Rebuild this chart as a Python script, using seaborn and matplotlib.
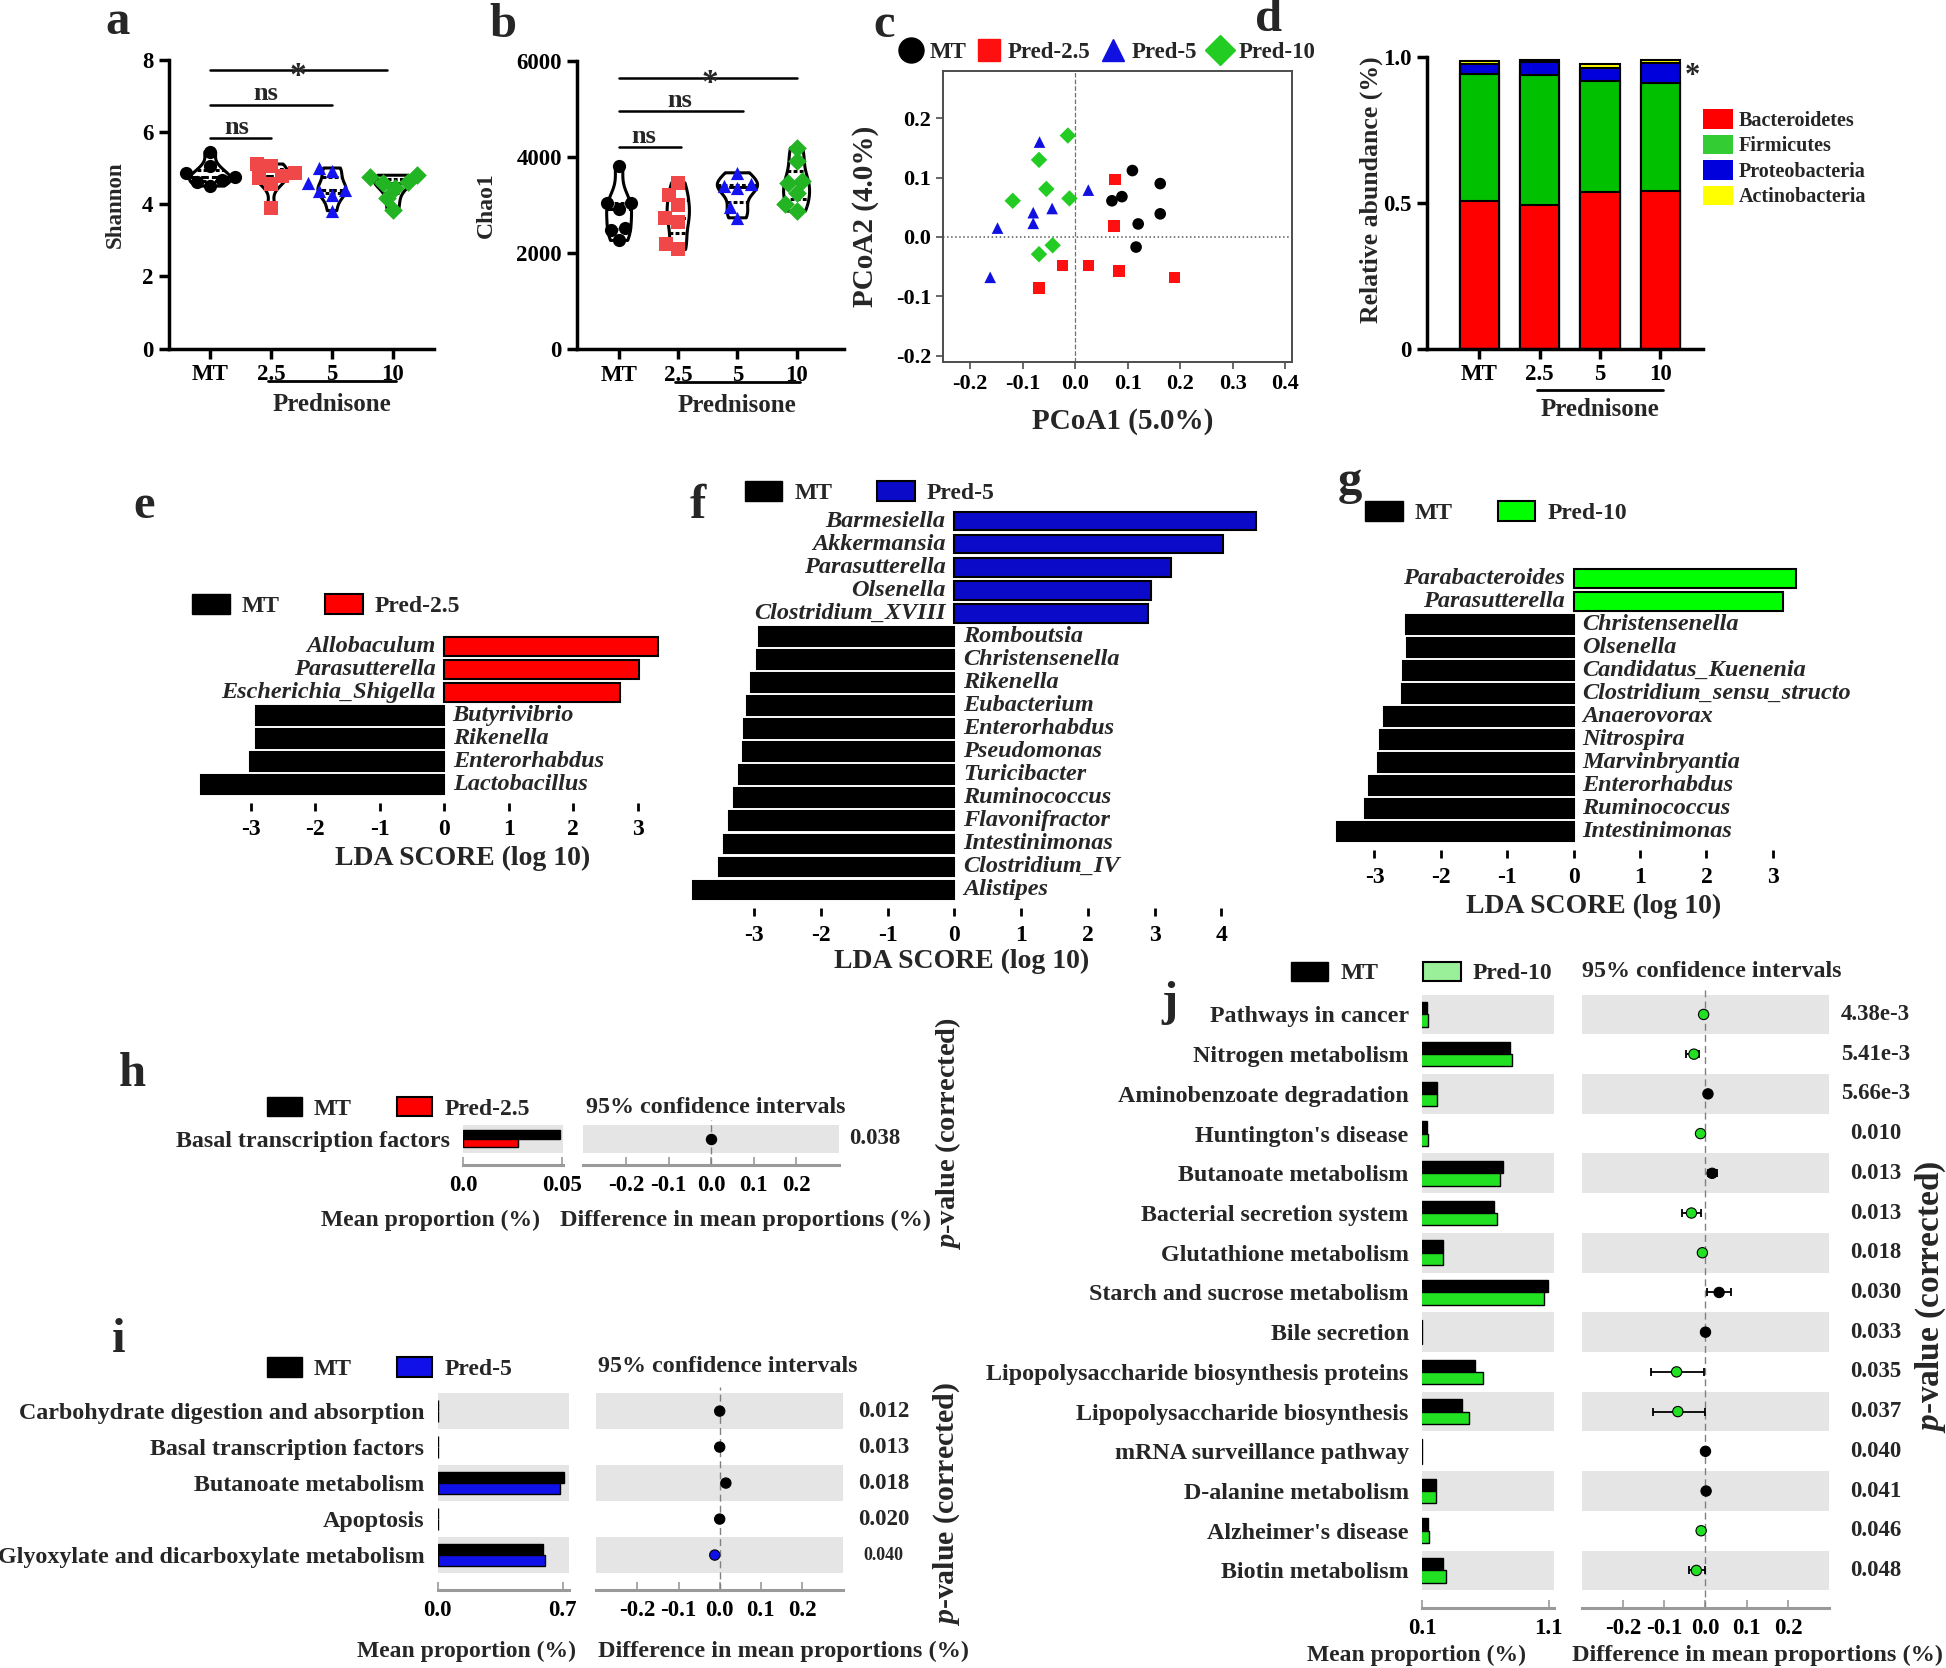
import numpy as np
import pandas as pd
import seaborn as sns
import matplotlib.pyplot as plt
import matplotlib.transforms as mtrans
from matplotlib.lines import Line2D
from matplotlib.patches import Patch

sns.set_theme(style='white')
plt.rcParams['font.family'] = ['Liberation Serif', 'DejaVu Serif']
plt.rcParams['font.weight'] = 'bold'
plt.rcParams['axes.unicode_minus'] = False
plt.rcParams['mathtext.fontset'] = 'custom'
plt.rcParams['mathtext.it'] = 'Liberation Serif:italic:bold'
plt.rcParams['mathtext.rm'] = 'Liberation Serif:bold'

# ---------------- data ----------------
groups = ['MT', '2.5', '5', '10']
group_colors = ['black', '#f04848', '#1414f0', '#22b422']
group_markers = ['o', 's', '^', 'D']

shannon_mt = [5.45, 5.05, 4.85, 4.75, 4.68, 4.62, 4.5]
shannon_p25 = [5.11, 5.05, 4.87, 4.77, 4.73, 4.56, 3.88]
shannon_p5 = [5.0, 4.91, 4.59, 4.4, 4.36, 4.26, 3.82]
shannon_p10 = [4.8, 4.76, 4.62, 4.59, 4.45, 4.16, 3.83]

chao_mt = [3806, 3045, 3045, 2907, 2526, 2484, 2263]
chao_p25 = [3460, 3197, 2990, 2733, 2650, 2194, 2076]
chao_p5 = [3668, 3426, 3391, 3356, 2962, 2733]
chao_p10 = [4187, 3910, 3495, 3446, 3239, 3024, 2872]

pcoa_groups = ['MT', 'Pred-2.5', 'Pred-5', 'Pred-10']
pc1_mt = [0.109, 0.162, 0.089, 0.070, 0.120, 0.162, 0.116]
pc2_mt = [0.112, 0.090, 0.068, 0.061, 0.022, 0.039, -0.017]
pc1_p25 = [0.076, 0.074, -0.024, 0.025, 0.084, 0.189, -0.069]
pc2_p25 = [0.097, 0.018, -0.048, -0.048, -0.057, -0.068, -0.086]
pc1_p5 = [-0.068, 0.025, -0.080, -0.044, -0.080, -0.148, -0.162]
pc2_p5 = [0.160, 0.079, 0.041, 0.048, 0.023, 0.015, -0.068]
pc1_p10 = [-0.014, -0.069, -0.055, -0.119, -0.011, -0.043, -0.069]
pc2_p10 = [0.171, 0.130, 0.081, 0.061, 0.065, -0.014, -0.029]

phyla = ['Bacteroidetes', 'Firmicutes', 'Proteobacteria', 'Actinobacteria']
phyla_colors = ['#ff0000', '#00c000', '#0000dd', '#ffff00']
bacteroidetes = [0.508, 0.493, 0.536, 0.541]
firmicutes = [0.434, 0.445, 0.383, 0.369]
proteobacteria = [0.035, 0.044, 0.042, 0.069]
actinobacteria = [0.011, 0.009, 0.014, 0.012]

e_names = ['Allobaculum', 'Parasutterella', 'Escherichia_Shigella', 'Butyrivibrio',
           'Rikenella', 'Enterorhabdus', 'Lactobacillus']
e_lda = [3.31, 3.02, 2.72, -2.92, -2.92, -3.01, -3.77]

f_names = ['Barmesiella', 'Akkermansia', 'Parasutterella', 'Olsenella', 'Clostridium_XVIII',
           'Romboutsia', 'Christensenella', 'Rikenella', 'Eubacterium', 'Enterorhabdus',
           'Pseudomonas', 'Turicibacter', 'Ruminococcus', 'Flavonifractor', 'Intestinimonas',
           'Clostridium_IV', 'Alistipes']
f_lda = [4.52, 4.02, 3.25, 2.94, 2.90, -2.93, -2.95, -3.04, -3.11, -3.15, -3.17, -3.23,
         -3.30, -3.38, -3.45, -3.52, -3.91]

g_names = ['Parabacteroides', 'Parasutterella', 'Christensenella', 'Olsenella',
           'Candidatus_Kuenenia', 'Clostridium_sensu_structo', 'Anaerovorax', 'Nitrospira',
           'Marvinbryantia', 'Enterorhabdus', 'Ruminococcus', 'Intestinimonas']
g_lda = [3.35, 3.15, -2.52, -2.51, -2.57, -2.58, -2.85, -2.92, -2.94, -3.09, -3.15, -3.56]

h_paths = ['Basal transcription factors']
h_mt = [0.049]
h_pred = [0.0275]
h_diff = [0.0]
h_lo = [-0.002]
h_hi = [0.002]
h_p = ['0.038']

i_paths = ['Carbohydrate digestion and absorption', 'Basal transcription factors',
           'Butanoate metabolism', 'Apoptosis', 'Glyoxylate and dicarboxylate metabolism']
i_mt = [0.003, 0.002, 0.707, 0.002, 0.587]
i_pred = [0.003, 0.002, 0.687, 0.002, 0.598]
i_diff = [0.0, 0.0, 0.015, 0.0, -0.012]
i_lo = [-0.002, -0.002, 0.008, -0.002, -0.018]
i_hi = [0.002, 0.002, 0.022, 0.002, -0.006]
i_p = ['0.012', '0.013', '0.018', '0.020', '0.040']

j_paths = ['Pathways in cancer', 'Nitrogen metabolism', 'Aminobenzoate degradation',
           "Huntington's disease", 'Butanoate metabolism', 'Bacterial secretion system',
           'Glutathione metabolism', 'Starch and sucrose metabolism', 'Bile secretion',
           'Lipopolysaccharide biosynthesis proteins', 'Lipopolysaccharide biosynthesis',
           'mRNA surveillance pathway', 'D-alanine metabolism', "Alzheimer's disease",
           'Biotin metabolism']
j_mt = [0.144, 0.791, 0.218, 0.139, 0.737, 0.669, 0.267, 1.090, 0.104, 0.522, 0.414,
        0.104, 0.208, 0.149, 0.267]
j_pred = [0.149, 0.806, 0.218, 0.149, 0.718, 0.693, 0.267, 1.061, 0.104, 0.580, 0.473,
          0.104, 0.208, 0.159, 0.286]
j_diff = [-0.0045, -0.028, 0.006, -0.012, 0.016, -0.034, -0.0075, 0.033, 0.0, -0.070,
          -0.067, 0.0, 0.0015, -0.0105, -0.022]
j_lo = [-0.006, -0.046, 0.004, -0.014, 0.006, -0.058, -0.009, 0.003, -0.001, -0.133,
        -0.127, -0.001, 0.0, -0.012, -0.039]
j_hi = [-0.003, -0.016, 0.008, -0.010, 0.028, -0.012, -0.006, 0.063, 0.001, -0.0045,
        -0.0015, 0.001, 0.003, -0.009, -0.0015]
j_p = ['4.38e-3', '5.41e-3', '5.66e-3', '0.010', '0.013', '0.013', '0.018', '0.030',
       '0.033', '0.035', '0.037', '0.040', '0.041', '0.046', '0.048']

# ---------------- layout helpers (coords of a 1568x1344 grid) ----------------
W, H = 1568.0, 1344.0
fig = plt.figure(figsize=(19.46, 16.68), dpi=100)


def px_axes(l, t, r, b):
    return fig.add_axes([l / W, 1 - b / H, (r - l) / W, (b - t) / H])


def ftext(x, y, s, **kw):
    kw.setdefault('ha', 'center')
    kw.setdefault('va', 'center')
    return fig.text(x / W, 1 - y / H, s, **kw)


def fig_legend(handles, labels, x, y, **kw):
    opts = dict(loc='center left', bbox_to_anchor=(x / W, 1 - y / H), frameon=False,
                fontsize=17, borderpad=0, borderaxespad=0, ncol=len(handles),
                handlelength=1.6, handleheight=0.9, handletextpad=0.5, columnspacing=1.9)
    opts.update(kw)
    return fig.legend(handles, labels, **opts)


def style_box_axis(ax):
    sns.despine(ax=ax)
    for s in ['left', 'bottom']:
        ax.spines[s].set_linewidth(2.5)
        ax.spines[s].set_color('black')
    ax.tick_params(direction='out', length=7, width=2.5, labelsize=16.5, colors='black',
                   pad=4, bottom=True, left=True)
    ax.set_xlabel('')
    ax.set_ylabel('')


def prednisone_bracket(ax, y_line, y_text):
    tr = mtrans.blended_transform_factory(ax.transData, ax.transAxes)
    ax.plot([0.95, 3.05], [y_line, y_line], color='black', lw=2, transform=tr, clip_on=False)
    ax.text(2, y_text, 'Prednisone', transform=tr, ha='center', va='center', fontsize=18)


def diversity_panel(box, values, ylim, yticks, sig, xlim):
    ax = px_axes(*box)
    df = pd.DataFrame({'group': np.repeat(groups, [len(v) for v in values]),
                       'value': np.concatenate(values)})
    sns.violinplot(data=df, x='group', y='value', order=groups, color='black', fill=False,
                   linewidth=2.2, cut=0, width=0.68, inner='quart', bw_adjust=0.8, ax=ax)
    for g, c, m in zip(groups, group_colors, group_markers):
        sns.swarmplot(data=df[df.group == g], x='group', y='value', order=groups, color=c,
                      marker=m, size=9.5, linewidth=0, ax=ax)
    for x1, yl, lab, tx, ty in sig:
        ax.plot([0, x1], [yl, yl], color='black', lw=1.8)
        fs = 24 if lab == '*' else 19
        ax.text(tx, ty, lab, ha='center', va='baseline', fontsize=fs)
    ax.set_xlim(*xlim)
    ax.set_ylim(*ylim)
    ax.set_yticks(yticks)
    style_box_axis(ax)
    prednisone_bracket(ax, -0.112, -0.193)
    return ax


# ---------------- a: Shannon ----------------
diversity_panel((136, 48, 350, 281), [shannon_mt, shannon_p25, shannon_p5, shannon_p10],
                (0, 8), [0, 2, 4, 6, 8],
                [(1, 5.83, 'ns', 0.44, 5.95), (2, 6.75, 'ns', 0.92, 6.87),
                 (2.9, 7.7, '*', 1.44, 7.3)], (-0.68, 3.68))
ftext(93, 165, 'Shannon', rotation=90, fontsize=16.5)

# ---------------- b: Chao1 ----------------
diversity_panel((465, 48.8, 680, 281.5), [chao_mt, chao_p25, chao_p5, chao_p10],
                (0, 6000), [0, 2000, 4000, 6000],
                [(1.04, 4200, 'ns', 0.41, 4290), (2.1, 4948, 'ns', 1.02, 5040),
                 (3.0, 5647, '*', 1.53, 5350)], (-0.71, 3.8))
ftext(392, 165, 'Chao1', rotation=90, fontsize=17)

# ---------------- c: PCoA ----------------
ax = px_axes(760, 57.6, 1041, 291.8)
df_c = pd.DataFrame({
    'group': np.repeat(pcoa_groups, 7),
    'pc1': np.concatenate([pc1_mt, pc1_p25, pc1_p5, pc1_p10]),
    'pc2': np.concatenate([pc2_mt, pc2_p25, pc2_p5, pc2_p10]),
})
pal_c = dict(zip(pcoa_groups, ['black', '#ff1010', '#1010e0', '#22cc22']))
mk_c = dict(zip(pcoa_groups, group_markers))
ax.axvline(0, color='0.45', ls='--', lw=0.9, zorder=0)
ax.axhline(0, color='0.35', ls=':', lw=1.1, zorder=0)
sns.scatterplot(data=df_c, x='pc1', y='pc2', hue='group', style='group', palette=pal_c,
                markers=mk_c, s=70, edgecolor='none', legend=False, ax=ax)
ax.set_xlim(-0.2515, 0.413)
ax.set_ylim(-0.211, 0.279)
ax.set_xticks([-0.2, -0.1, 0.0, 0.1, 0.2, 0.3, 0.4])
ax.set_yticks([-0.2, -0.1, 0.0, 0.1, 0.2])
ax.set_xticklabels(['-0.2', '-0.1', '0.0', '0.1', '0.2', '0.3', '0.4'])
ax.set_yticklabels(['-0.2', '-0.1', '0.0', '0.1', '0.2'])
for s in ax.spines.values():
    s.set_color('0.3')
    s.set_linewidth(1.4)
ax.tick_params(direction='out', length=5, width=1.2, colors='0.3', labelcolor='black',
               labelsize=16, bottom=True, left=True)
ax.set_xlabel('')
ax.set_ylabel('')
ftext(905, 340, 'PCoA1 (5.0%)', fontsize=21)
ftext(697, 174, 'PCoA2 (4.0%)', fontsize=21, rotation=90)
c_handles = [Line2D([], [], ls='none', marker=m, color=pal_c[g], markersize=ms)
             for g, m, ms in zip(pcoa_groups, group_markers, [18, 16, 16, 15])]
fig_legend(c_handles, pcoa_groups, 725, 42, handlelength=1.0, handletextpad=0.3,
           columnspacing=0.5, fontsize=16.5)

# ---------------- d: relative abundance ----------------
ax = px_axes(1150, 46, 1372, 281)
layers = [bacteroidetes, firmicutes, proteobacteria, actinobacteria]
cum = np.cumsum(np.array(layers), axis=0)
for k in range(len(phyla) - 1, -1, -1):
    sns.barplot(x=groups, y=cum[k], order=groups, color=phyla_colors[k], saturation=1,
                edgecolor='black', linewidth=1.5, width=0.65, ax=ax)
ax.set_xlim(-0.86, 3.7)
ax.set_ylim(0, 1)
ax.set_yticks([0, 0.5, 1.0])
ax.set_yticklabels(['0', '0.5', '1.0'])
style_box_axis(ax)
prednisone_bracket(ax, -0.14, -0.208)
ftext(1105, 153, 'Relative abundance (%)', rotation=90, fontsize=18.5)
ftext(1364, 62, '*', fontsize=22)
d_handles = [Patch(fc=c, ec='none') for c in ['#ff0000', '#33cc33', '#0000dd', '#ffff00']]
fig.legend(d_handles, phyla, loc='upper left', bbox_to_anchor=(1372 / W, 1 - 88 / H),
           frameon=False, fontsize=14.5, handlelength=1.5, handleheight=1.1,
           labelspacing=0.2, handletextpad=0.3, borderpad=0, borderaxespad=0)


# ---------------- e, f, g: LEfSe LDA ----------------
def lda_panel(names, scores, pos_name, pos_color, zero_x, unit, xlim, y0, pitch, ticks,
              off=0.13):
    n = len(names)
    l = zero_x + xlim[0] * unit
    r = zero_x + xlim[1] * unit
    ax = px_axes(l, y0 - pitch / 2, r, y0 + (n - 0.5) * pitch)
    df = pd.DataFrame({'taxon': names, 'score': scores})
    df['group'] = np.where(df.score > 0, pos_name, 'MT')
    sns.barplot(data=df, y='taxon', x='score', hue='group', order=names,
                palette={'MT': 'black', pos_name: pos_color}, saturation=1, dodge=False,
                width=0.8, edgecolor='black', linewidth=1.5, legend=False, ax=ax)
    for k, (nm, s) in enumerate(zip(names, scores)):
        if s > 0:
            ax.text(-off, k, nm, ha='right', va='center', style='italic', fontsize=17.5)
        else:
            ax.text(off, k, nm, ha='left', va='center', style='italic', fontsize=17.5)
    ax.set_xlim(*xlim)
    ax.set_ylim(n - 0.5, -0.5)
    ax.set_yticks([])
    ax.set_xticks(ticks)
    ax.set_xlabel('')
    ax.set_ylabel('')
    for s in ['top', 'right', 'left']:
        ax.spines[s].set_visible(False)
    ax.spines['bottom'].set_position(('outward', 5))
    ax.spines['bottom'].set_visible(False)
    ax.tick_params(axis='x', direction='out', length=6, width=2, colors='black',
                   labelsize=17, pad=6, bottom=True)
    return ax


lda_panel(e_names, e_lda, 'Pred-2.5', '#ff0000', 358, 52, (-4.0, 3.6), 521, 18.5,
          [-3, -2, -1, 0, 1, 2, 3])
ftext(373, 692, 'LDA SCORE (log 10)', fontsize=20)
fig_legend([Patch(fc='black', ec='black'), Patch(fc='#ff0000', ec='black', lw=1.5)],
           ['MT', 'Pred-2.5'], 155, 488)

lda_panel(f_names, f_lda, 'Pred-5', '#0a0ac8', 769, 53.8, (-4.05, 4.6), 420, 18.56,
          [-3, -2, -1, 0, 1, 2, 3, 4])
ftext(775, 775, 'LDA SCORE (log 10)', fontsize=20)
fig_legend([Patch(fc='black', ec='black'), Patch(fc='#0a0ac8', ec='black', lw=1.5)],
           ['MT', 'Pred-5'], 600, 397)

lda_panel(g_names, g_lda, 'Pred-10', '#00ff00', 1268, 53.5, (-3.7, 3.7), 466, 18.55,
          [-3, -2, -1, 0, 1, 2, 3])
ftext(1284, 730, 'LDA SCORE (log 10)', fontsize=20)
fig_legend([Patch(fc='black', ec='black'), Patch(fc='#00ff00', ec='black', lw=1.5)],
           ['MT', 'Pred-10'], 1100, 413)


# ---------------- h, i, j: STAMP extended error bars ----------------
def stamp_panel(names, mt, pred, diff, lo, hi, pvals, pred_name, pred_color, bar_lr, ci_lr,
                y0, pitch, pad_top, pad_bot, bar_xlim, bar_ticks, bar_labels, p_x,
                p_sizes=None):
    n = len(names)
    top = y0 - pitch / 2 - pad_top
    bot = y0 + (n - 0.5) * pitch + pad_bot
    ylim = (n - 0.5 + pad_bot / pitch, -0.5 - pad_top / pitch)
    axb = px_axes(bar_lr[0], top, bar_lr[1], bot)
    axc = px_axes(ci_lr[0], top, ci_lr[1], bot)

    long = pd.DataFrame({'pathway': list(names) * 2,
                         'group': ['MT'] * n + [pred_name] * n,
                         'mean': list(mt) + list(pred)})
    sns.barplot(data=long, y='pathway', x='mean', hue='group', order=names,
                hue_order=['MT', pred_name], palette={'MT': 'black', pred_name: pred_color},
                saturation=1, dodge=True, width=0.62, edgecolor='black', linewidth=1,
                legend=False, ax=axb)

    rows = np.arange(n)
    diff = np.asarray(diff)
    pt_group = np.where(diff >= 0, 'MT', pred_name)
    axc.axvline(0, color='0.5', ls=(0, (5, 3)), lw=1, zorder=1)
    axc.errorbar(diff, rows, xerr=[diff - np.asarray(lo), np.asarray(hi) - diff], fmt='none',
                 ecolor='black', elinewidth=1.3, capsize=3, capthick=1.3, zorder=2)
    sns.scatterplot(x=diff, y=rows, hue=pt_group, palette={'MT': 'black', pred_name: pred_color},
                    s=55, edgecolor='black', linewidth=0.8, legend=False, zorder=3, ax=axc)

    for ax in (axb, axc):
        for k in range(0, n, 2):
            ax.axhspan(k - 0.5, k + 0.5, color='#e5e5e5', lw=0, zorder=0)
        ax.set_ylim(*ylim)
        ax.set_xlabel('')
        ax.set_ylabel('')
        for s in ['top', 'right', 'left']:
            ax.spines[s].set_visible(False)
        ax.spines['bottom'].set_color('#9a9a9a')
        ax.spines['bottom'].set_linewidth(2.2)
        ax.tick_params(axis='x', direction='in', length=6, width=1.2, colors='#9a9a9a',
                       labelcolor='black', labelsize=16.5, pad=7, bottom=True)
    axb.set_xlim(*bar_xlim)
    axb.set_xticks(bar_ticks)
    axb.set_xticklabels(bar_labels)
    axb.tick_params(axis='y', length=0, labelsize=17.3, pad=9.5)
    axc.set_xlim(-0.3, 0.3)
    axc.set_xticks([-0.2, -0.1, 0.0, 0.1, 0.2])
    axc.set_xticklabels(['-0.2', '-0.1', '0.0', '0.1', '0.2'])
    axc.set_yticks([])

    tr = mtrans.blended_transform_factory(fig.transFigure, axc.transData)
    if p_sizes is None:
        p_sizes = [16.5] * n
    for k, (p, fs) in enumerate(zip(pvals, p_sizes)):
        axc.text(p_x / W, k, p, transform=tr, ha='center', va='center', fontsize=fs)
    return axb, axc


# h
stamp_panel(h_paths, h_mt, h_pred, h_diff, h_lo, h_hi, h_p, 'Pred-2.5', '#ff0000',
            (373, 454), (470, 676), 917.7, 22, 4, 10, (0, 0.0506), [0, 0.05],
            ['0.0', '0.05'], 705)
fig_legend([Patch(fc='black', ec='black'), Patch(fc='#ff0000', ec='black', lw=1.5)],
           ['MT', 'Pred-2.5'], 215, 893, handlelength=1.5)
ftext(577, 892, '95% confidence intervals', fontsize=17.3)
ftext(347, 983, 'Mean proportion (%)', fontsize=17)
ftext(601, 983, 'Difference in mean proportions (%)', fontsize=17.5)
ftext(764, 913, r'$p$-value (corrected)', rotation=90, fontsize=20.5)

# i
stamp_panel(i_paths, i_mt, i_pred, i_diff, i_lo, i_hi, i_p, 'Pred-5', '#1010e8',
            (352.6, 458.4), (480.4, 679.4), 1137, 29, 5, 14, (0, 0.734), [0, 0.7],
            ['0.0', '0.7'], 712, p_sizes=[16.5, 16.5, 16.5, 16.5, 13])
fig_legend([Patch(fc='black', ec='black'), Patch(fc='#1010e8', ec='black', lw=1.5)],
           ['MT', 'Pred-5'], 215, 1103, handlelength=1.5)
ftext(586, 1101, '95% confidence intervals', fontsize=17.3)
ftext(376, 1331, 'Mean proportion (%)', fontsize=17)
ftext(631, 1331, 'Difference in mean proportions (%)', fontsize=17.5)
ftext(763, 1212, r'$p$-value (corrected)', rotation=90, fontsize=21.5)

# j
stamp_panel(j_paths, j_mt, j_pred, j_diff, j_lo, j_hi, j_p, 'Pred-10', '#22e022',
            (1145.7, 1252), (1274.4, 1474), 817.4, 32.0, 6.5, 14.6, (0.1, 1.139),
            [0.1, 1.1], ['0.1', '1.1'], 1511)
fig_legend([Patch(fc='black', ec='black'), Patch(fc='#99f099', ec='black', lw=1.5)],
           ['MT', 'Pred-10'], 1040, 784, handlelength=1.6)
ftext(1379, 783, '95% confidence intervals', fontsize=17.3)
ftext(1141, 1334, 'Mean proportion (%)', fontsize=17)
ftext(1416, 1334, 'Difference in mean proportions (%)', fontsize=17.5)
ftext(1556, 1045, r'$p$-value (corrected)', rotation=90, fontsize=24)

# ---------------- panel letters ----------------
for lab, x, y in [('a', 95, 18), ('b', 405, 20), ('c', 712, 20), ('d', 1022, 15),
                  ('e', 116, 408), ('f', 562, 408), ('g', 1088, 388), ('h', 107, 865),
                  ('i', 96, 1080), ('j', 942, 808)]:
    ftext(x, y, lab, fontsize=35)

fig.savefig('out.png', dpi=100)
